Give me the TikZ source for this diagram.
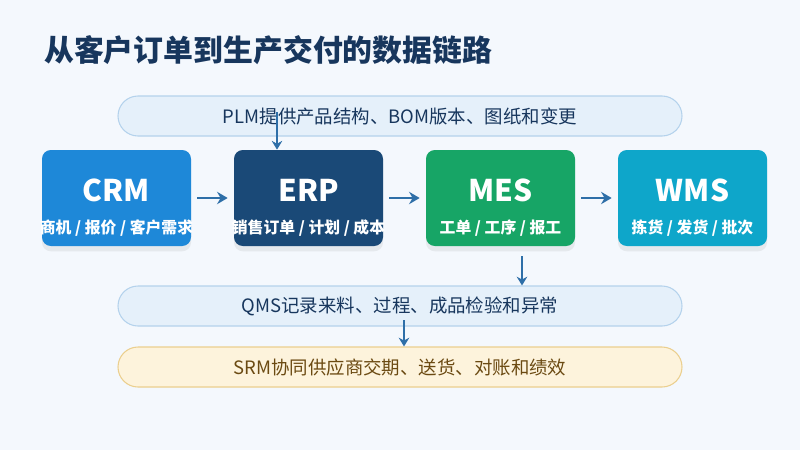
\documentclass[tikz,border=0pt]{standalone}
\usepackage{fontspec}
\setmainfont{Noto Sans CJK SC}
\usetikzlibrary{arrows.meta, positioning, shadows}

\definecolor{bgcolor}{HTML}{F4F8FD}
\definecolor{titlecolor}{HTML}{17365D}
\definecolor{pillfill}{HTML}{E5F0FA}
\definecolor{pilldraw}{HTML}{B4D2EC}
\definecolor{srmfill}{HTML}{FDF3DC}
\definecolor{srmdraw}{HTML}{EBCF8E}
\definecolor{srmtext}{HTML}{6B4A12}
\definecolor{crmcolor}{HTML}{1E88D8}
\definecolor{erpcolor}{HTML}{1A4977}
\definecolor{mescolor}{HTML}{17A566}
\definecolor{wmscolor}{HTML}{0EA6CA}
\definecolor{arrowcolor}{HTML}{2E6FA8}

\begin{document}
\begin{tikzpicture}[x=0.02cm, y=-0.02cm,
    pill/.style={rectangle, rounded corners=20*0.02cm, draw=pilldraw, fill=pillfill, line width=0.6pt,
      minimum width=564*0.02cm, minimum height=40*0.02cm, font=\fontsize{10.5}{13}\selectfont, text=titlecolor},
    sys/.style={rectangle, rounded corners=5pt, minimum width=149*0.02cm, minimum height=96*0.02cm,
      text=white, align=center, drop shadow={opacity=0.12, shadow xshift=0pt, shadow yshift=-3pt}},
    arrow/.style={-{Stealth[length=6pt, width=7pt]}, line width=1.6pt, draw=arrowcolor},
    small/.style={-{Stealth[length=5pt, width=6pt]}, line width=1.2pt, draw=arrowcolor}]

    % Background
    \fill[bgcolor] (0,0) rectangle (800,450);
    \node[anchor=west, font=\fontsize{17}{20}\selectfont\bfseries, text=titlecolor] (title) at (38,50) {从客户订单到生产交付的数据链路};

    % Pills
    \node[pill] (plm) at (400,116) {PLM提供产品结构、BOM版本、图纸和变更};
    \node[pill] (qms) at (400,306) {QMS记录来料、过程、成品检验和异常};
    \node[pill, draw=srmdraw, fill=srmfill, text=srmtext] (srm) at (400,367) {SRM协同供应商交期、送货、对账和绩效};

    % Systems
    \node[sys, fill=crmcolor] (crm) at (116.5,198) {};
    \node[sys, fill=erpcolor] (erp) at (308.5,198) {};
    \node[sys, fill=mescolor] (mes) at (500.5,198) {};
    \node[sys, fill=wmscolor] (wms) at (692.5,198) {};
    \foreach \n/\t/\s in {crm/CRM/{商机 / 报价 / 客户需求}, erp/ERP/{销售订单 / 计划 / 成本},
                          mes/MES/{工单 / 工序 / 报工}, wms/WMS/{拣货 / 发货 / 批次}} {
      \node[text=white, font=\fontsize{17}{20}\selectfont\bfseries] at ([yshift=8*0.02cm]\n.center) {\t};
      \node[text=white, font=\fontsize{9}{11}\selectfont\bfseries] at ([yshift=-30*0.02cm]\n.center) {\s};
    }

    % Arrows
    \draw[arrow] ([xshift=6*0.02cm]crm.east) -- ([xshift=-6*0.02cm]erp.west);
    \draw[arrow] ([xshift=6*0.02cm]erp.east) -- ([xshift=-6*0.02cm]mes.west);
    \draw[arrow] ([xshift=6*0.02cm]mes.east) -- ([xshift=-6*0.02cm]wms.west);
    \coordinate (plmout) at (277,112);
    \draw[small] (plmout) -- (erp.north -| plmout);
    \draw[small] ([yshift=-10*0.02cm]mes.south -| 522,0) -- (qms.north -| 522,0);
    \coordinate (qmsout) at (404,320);
    \draw[small] (qmsout) -- (srm.north -| qmsout);
\end{tikzpicture}
\end{document}
